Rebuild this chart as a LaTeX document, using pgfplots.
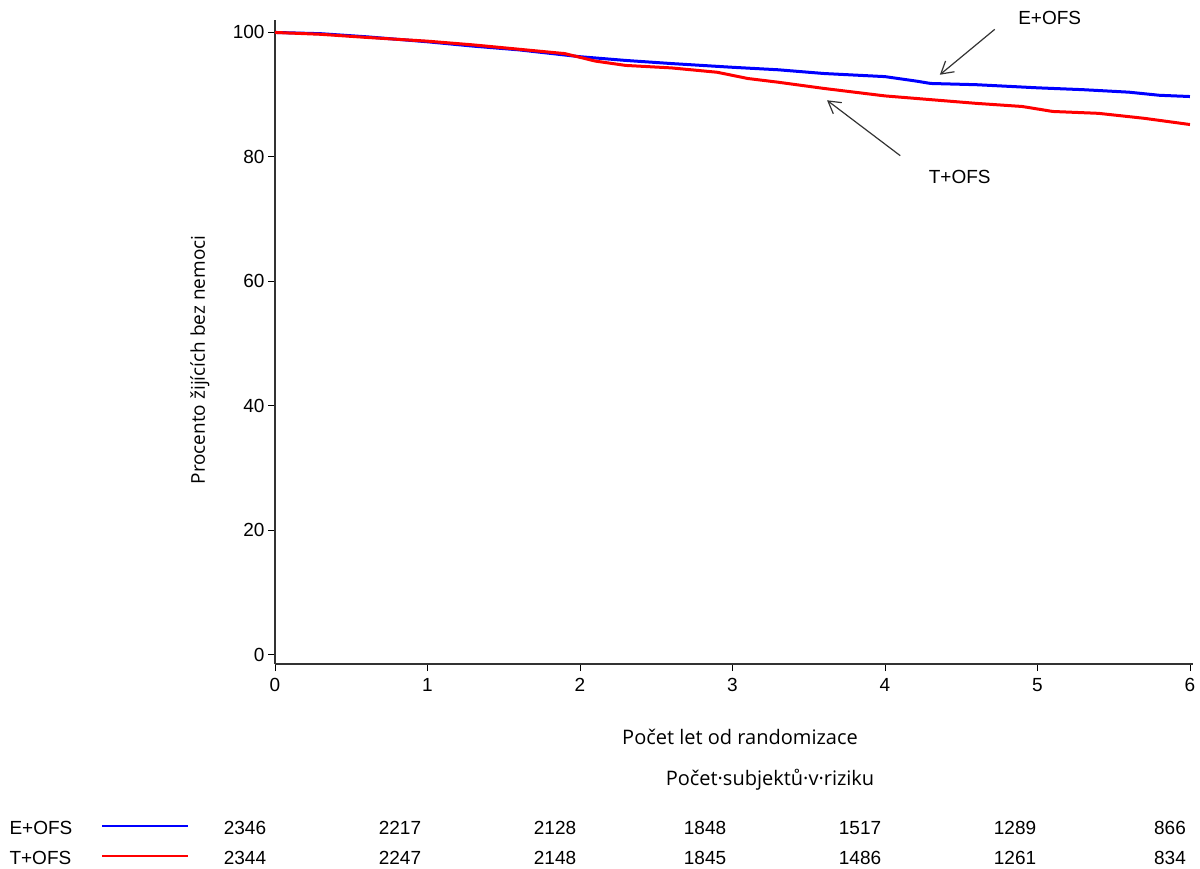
\documentclass[border=0pt]{standalone}
\usepackage{pgfplots}
\pgfplotsset{compat=1.18}
\usetikzlibrary{arrows.meta}
\usepackage{fontspec}
\setmainfont{Liberation Sans}
\newfontfamily\lab{Open Sans}
\begin{document}
\begin{tikzpicture}
\path (0pt,0pt) rectangle (1200pt,-869pt);
\begin{axis}[at={(275pt,-664pt)}, anchor=south west, scale only axis,
 width=918pt, height=644pt, xmin=0, xmax=6.02, ymin=-1.5, ymax=102,
 axis lines=left, axis line style={-, line width=1.2pt, black!80},
 xtick={0,...,6}, ytick={0,20,...,100}, tick style={black, line width=0.8pt},
 tick align=outside, major tick length=7pt,
 ticklabel style={font=\fontsize{19}{22}\selectfont},
 xticklabel style={yshift=-4pt},
 /pgf/number format/assume math mode=true, clip=false]
\addplot[blue, line width=3pt] coordinates {
(0,100)(0.3,99.8)(0.6,99.3)(1,98.5)(1.3,97.8)(1.6,97.2)(2,96.1)(2.3,95.5)(2.6,95.0)(3,94.4)(3.3,94.0)(3.6,93.4)(4,92.9)(4.2,92.2)(4.3,91.8)(4.6,91.6)(5,91.1)(5.3,90.8)(5.6,90.4)(5.8,89.9)(6,89.7)};
\addplot[red, line width=3pt] coordinates {
(0,100)(0.3,99.7)(0.6,99.2)(1,98.6)(1.3,98.0)(1.6,97.3)(1.9,96.6)(2.1,95.4)(2.3,94.7)(2.6,94.3)(2.9,93.6)(3.1,92.6)(3.3,92.0)(3.6,91.0)(3.8,90.4)(4,89.8)(4.3,89.2)(4.6,88.6)(4.9,88.1)(5.1,87.3)(5.4,87.0)(5.7,86.2)(6,85.2)};
\draw[-{Straight Barb[length=12pt,width=14pt]}, line width=1.2pt, black!80] (axis cs:4.72,100.5) -- (axis cs:4.36,93.2);
\draw[-{Straight Barb[length=12pt,width=14pt]}, line width=1.2pt, black!80] (axis cs:4.10,80.2) -- (axis cs:3.62,89.1);
\node[font=\fontsize{19}{22}\selectfont] at (axis cs:5.08,102.3) {E+OFS};
\node[font=\fontsize{19}{22}\selectfont] at (axis cs:4.49,76.7) {T+OFS};
\end{axis}
\node[rotate=90, font=\lab\fontsize{19}{22}\selectfont] at (200pt,-360pt) {Procento žijících bez nemoci};
\node[font=\lab\fontsize{20}{24}\selectfont] at (740pt,-737pt) {Počet let od randomizace};
\node[font=\lab\fontsize{20}{24}\selectfont] at (770pt,-780pt) {Počet·subjektů·v·riziku};
\node[anchor=west, font=\fontsize{19}{22}\selectfont] at (6pt,-828pt) {E+OFS};
\node[anchor=west, font=\fontsize{19}{22}\selectfont] at (6pt,-858pt) {T+OFS};
\draw[blue, line width=1.5pt] (102pt,-826pt) -- (188pt,-826pt);
\draw[red, line width=2pt] (102pt,-856pt) -- (188pt,-856pt);
\foreach \x/\u/\v in {245/2346/2344, 400/2217/2247, 555/2128/2148, 705/1848/1845, 860/1517/1486, 1015/1289/1261, 1170/866/834} {
 \node[font=\fontsize{19}{22}\selectfont] at (\x pt,-828pt) {\u};
 \node[font=\fontsize{19}{22}\selectfont] at (\x pt,-858pt) {\v};
}
\end{tikzpicture}
\end{document}
